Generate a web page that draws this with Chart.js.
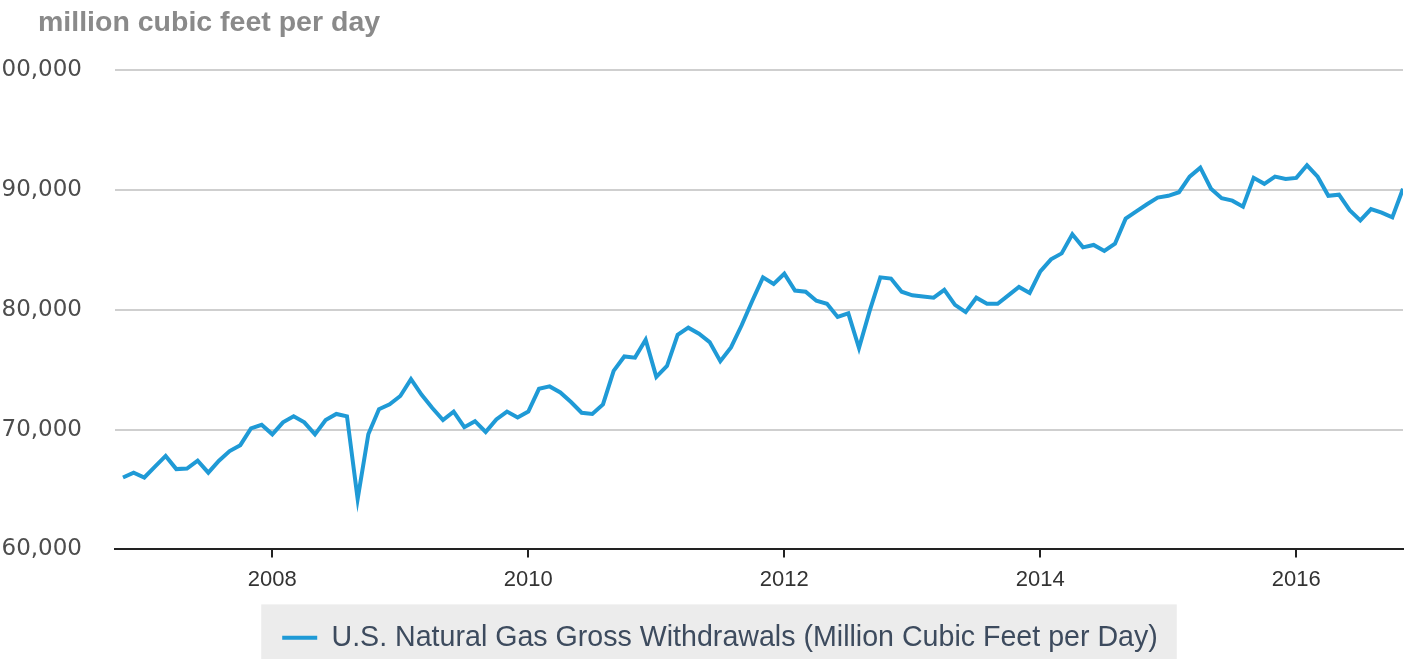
<!DOCTYPE html>
<html>
<head>
<meta charset="utf-8">
<script src="https://cdn.jsdelivr.net/npm/chart.js@4.4.1/dist/chart.umd.min.js"></script>
<style>
  html, body { margin: 0; padding: 0; background: #fff; overflow: hidden; width: 1404px; height: 659px; }
  #wrap { position: absolute; left: -13px; top: 0; width: 1420px; height: 666px; }
</style>
</head>
<body>
<div id="wrap"><canvas id="gasCanvas"></canvas></div>
<script>
// monthly series, Nov 2006 .. Nov 2016
const startYear = 2006;
const startMonth = 11;
const withdrawals = [
  66000, 66400,
  66000, 66900, 67800, 66700, 66750, 67400, 66400, 67400, 68200, 68700, 70100, 70400,
  69600, 70600, 71100, 70600, 69600, 70800, 71300, 71100, 64200, 69600, 71700, 72100,
  72800, 74200, 72900, 71800, 70800, 71500, 70200, 70700, 69800, 70850, 71500, 71000,
  71500, 73400, 73600, 73100, 72300, 71400, 71300, 72100, 74900, 76100, 76000, 77500,
  74400, 75300, 77900, 78500, 78000, 77300, 75700, 76850, 78700, 80750, 82700, 82150,
  83000, 81600, 81500, 80750, 80500, 79400, 79700, 76800, 79900, 82700, 82600, 81500,
  81200, 81100, 81000, 81650, 80400, 79800, 81000, 80500, 80500, 81200, 81900, 81400,
  83200, 84200, 84700, 86300, 85200, 85400, 84900, 85500, 87600, 88200, 88800, 89350,
  89500, 89800, 91100, 91850, 90100, 89300, 89100, 88600, 91000, 90500, 91100, 90900,
  91000, 92050, 91100, 89500, 89600, 88300, 87450, 88400, 88100, 87700, 90100
];
const yearTicks = [2008, 2010, 2012, 2014, 2016];
const yTicks = [60000, 70000, 80000, 90000, 100000];
const seriesLabel = 'U.S. Natural Gas Gross Withdrawals (Million Cubic Feet per Day)';
const unitLabel = 'million cubic feet per day';

const points = withdrawals.map((v, i) => ({ x: startYear + (startMonth - 1 + i) / 12, y: v }));

const lineBlue = '#1f9ad6';
const legendShift = 25;

// 單位文字 + 圖例灰底
const decor = {
  id: 'decor',
  afterLayout(chart) {
    // 圖例往右移一點
    const lg = chart.legend;
    if (!lg) return;
    lg.left += legendShift;
    lg.right += legendShift;
    (lg.legendHitBoxes || []).forEach(h => { h.left += legendShift; });
  },
  beforeDraw(chart) {
    const ctx = chart.ctx;
    const area = chart.chartArea;
    ctx.save();
    const hb = chart.legend && chart.legend.legendHitBoxes && chart.legend.legendHitBoxes[0];
    if (hb) {
      ctx.fillStyle = '#ececec';
      ctx.fillRect(hb.left - 21, area.bottom + 55, hb.width + 40, 80);
    }
    ctx.fillStyle = '#8a8a8a';
    ctx.font = 'bold 28.5px "Liberation Sans", Arial, sans-serif';
    ctx.textBaseline = 'middle';
    ctx.textAlign = 'left';
    ctx.fillText(unitLabel, area.left - 77, area.top - 47);
    ctx.restore();
  }
};

var gasChart = new Chart(document.getElementById('gasCanvas').getContext('2d'), {
  type: 'line',
  data: {
    datasets: [{
      label: seriesLabel,
      data: points,
      borderColor: lineBlue,
      backgroundColor: lineBlue,
      borderWidth: 4,
      pointRadius: 0,
      tension: 0,
      fill: false
    }]
  },
  options: {
    responsive: true,
    maintainAspectRatio: false,
    animation: false,
    layout: { padding: { top: 70, right: 4, left: 0, bottom: 4 } },
    plugins: {
      title: { display: false },
      tooltip: { enabled: false },
      legend: {
        position: 'bottom',
        labels: {
          usePointStyle: true,
          pointStyle: 'line',
          pointStyleWidth: 35,
          boxHeight: 20,
          padding: 19,
          color: '#3d4b5e',
          font: { family: '"Liberation Sans", Arial, sans-serif', size: 28.6 }
        }
      }
    },
    scales: {
      x: {
        type: 'linear',
        min: 2006.771,
        max: 2016.8334,
        afterBuildTicks: axis => { axis.ticks = yearTicks.map(v => ({ value: v })); },
        afterFit: axis => { axis.height = 55; },
        grid: { drawOnChartArea: false, drawTicks: true, tickLength: 8, color: '#222', lineWidth: 2 },
        border: { display: true, color: '#222', width: 2 },
        ticks: {
          padding: 9,
          color: '#333',
          maxRotation: 0,
          font: { family: '"Liberation Sans", Arial, sans-serif', size: 22 },
          callback: v => String(v)
        }
      },
      y: {
        min: 60000,
        max: 100000,
        afterBuildTicks: axis => { axis.ticks = yTicks.map(v => ({ value: v })); },
        afterFit: axis => { axis.width = 128; },
        grid: {
          drawTicks: false,
          lineWidth: 2,
          color: ctx => ctx.tick && ctx.tick.value === 60000 ? 'rgba(0,0,0,0)' : '#cfcfcf'
        },
        border: { display: false },
        ticks: {
          padding: 33,
          color: '#4d4d4d',
          font: { family: '"DejaVu Sans", sans-serif', size: 23 },
          callback: v => v.toLocaleString('en-US')
        }
      }
    }
  },
  plugins: [decor]
});
</script>
</body>
</html>
